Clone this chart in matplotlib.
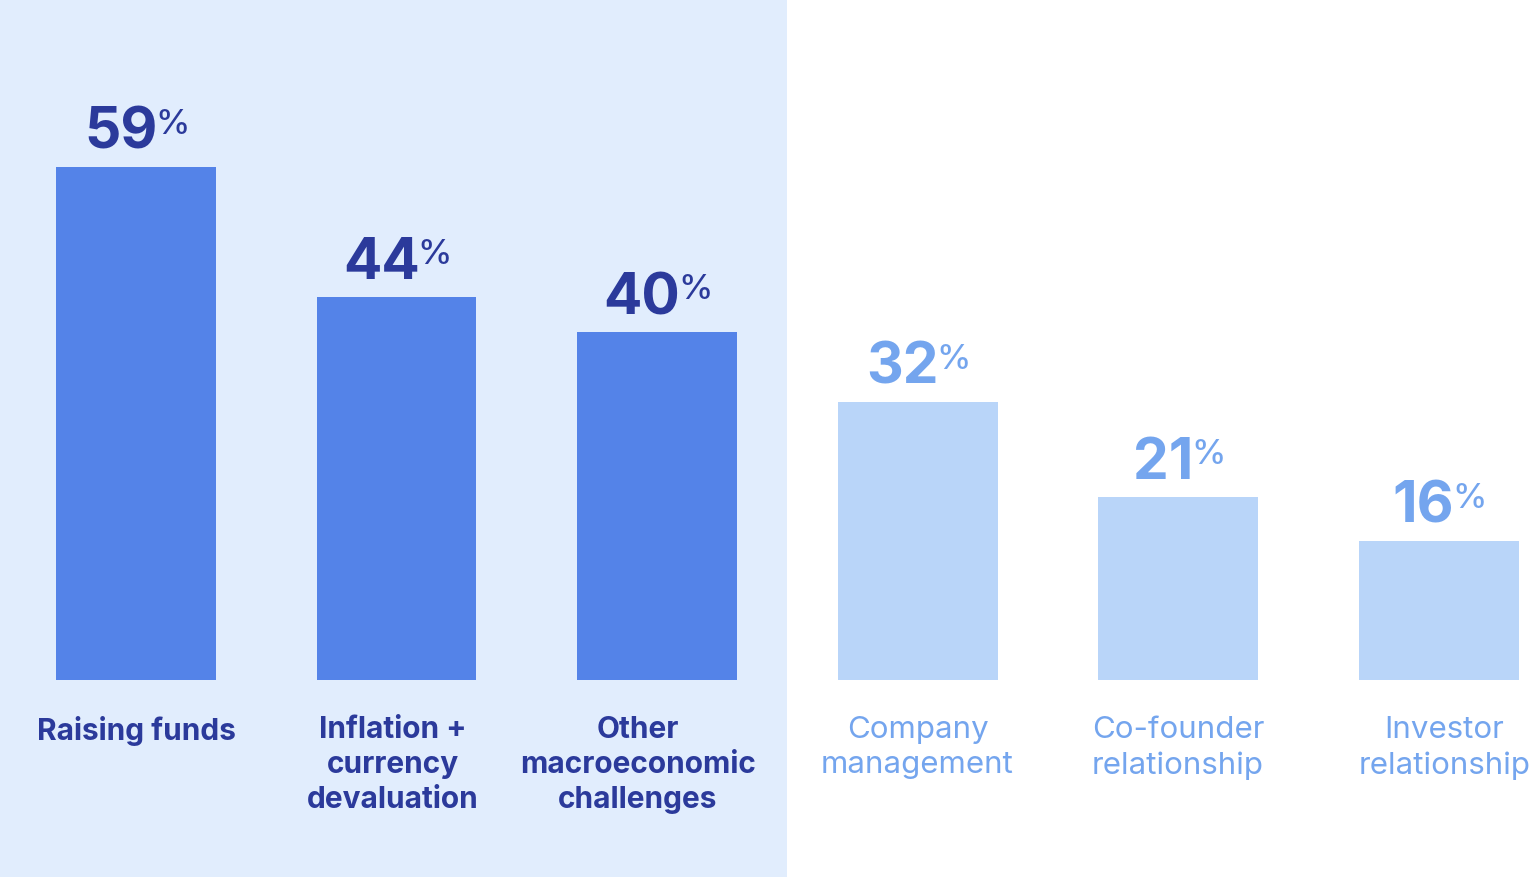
import matplotlib
matplotlib.use("Agg")
import matplotlib.pyplot as plt

plt.rcParams['font.family'] = ['Inter', 'DejaVu Sans']

categories = ["Raising funds", "Inflation +\ncurrency\ndevaluation",
              "Other\nmacroeconomic\nchallenges", "Company\nmanagement",
              "Co-founder\nrelationship", "Investor\nrelationship"]
values = [59, 44, 40, 32, 21, 16]
highlight = [True, True, True, False, False, False]

# colours
panel_bg = "#E1EDFD"
bar_dark = "#5483E8"
bar_light = "#B9D5F9"
text_dark = "#2B3A9B"
text_light = "#74A5EE"

fig = plt.figure(figsize=(15.36, 8.77), dpi=100)
ax = fig.add_axes([0, 0, 1, 1])
ax.set_xlim(-0.522, 5.374)
ax.set_ylim(-22.64, 78.16)
ax.axis('off')

# shaded panel behind the highlighted group
n_hi = sum(highlight)
ax.axvspan(-1, n_hi - 0.5, color=panel_bg, zorder=0, lw=0)

x = list(range(len(values)))
colors = [bar_dark if h else bar_light for h in highlight]
ax.bar(x, values, width=0.614, color=colors, zorder=2)

renderer = fig.canvas.get_renderer()
label_shift = [0, -4, -19, 0, 0, 6]
gap = 18

for i, v in enumerate(values):
    c = text_dark if highlight[i] else text_light
    num = ax.annotate(str(v), xy=(i, v), xytext=(0, gap), textcoords='offset pixels',
                      ha='center', va='baseline', fontsize=41, fontweight='bold', color=c)
    pct = ax.annotate('%', xy=(i, v), xytext=(0, gap + 15), textcoords='offset pixels',
                      ha='left', va='baseline', fontsize=25, fontweight='medium', color=c)
    wn = num.get_window_extent(renderer).width
    wp = pct.get_window_extent(renderer).width
    # number + superscript % centred together over the bar
    num.set_position((-wp / 2 + 2, gap))
    pct.set_position((wn / 2 - wp / 2, gap + 15))

    ax.annotate(categories[i], xy=(i, 0), xytext=(label_shift[i], -36),
                textcoords='offset pixels', ha='center', va='top',
                fontsize=21.5 if highlight[i] else 22.5,
                fontweight='bold' if highlight[i] else 'normal',
                color=c, linespacing=1.32)

fig.savefig("out.png", dpi=100)
